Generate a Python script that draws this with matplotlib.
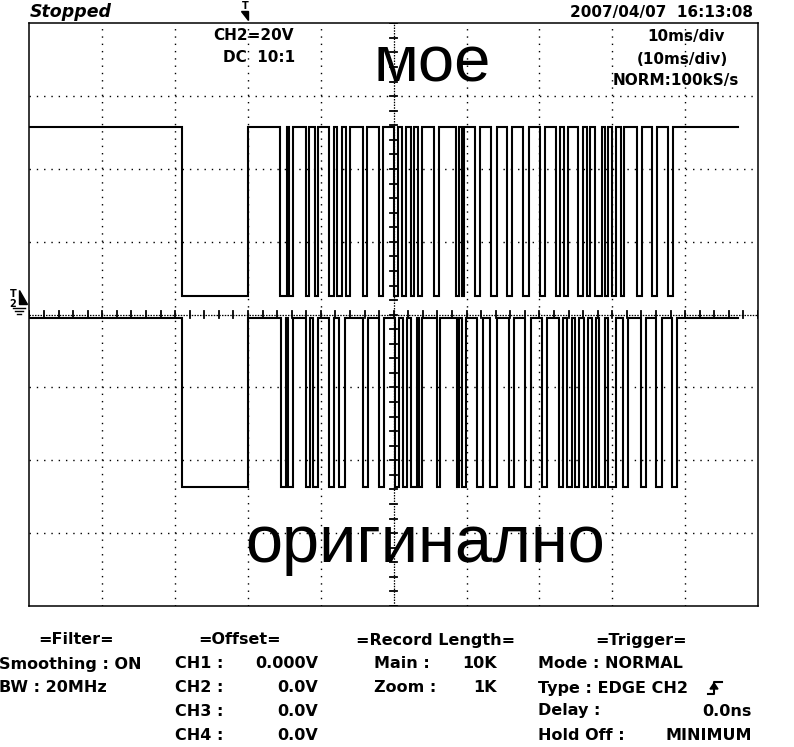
import numpy as np
import matplotlib.pyplot as plt
from matplotlib.patches import Polygon

########################### data ################################
# horizontal: 10 div x 10 ms/div, vertical: 8 div (CH2 = 20V/div)
t_end = 97.3

# upper trace "мое" : levels in div, low intervals in ms
moe_high = 2.57
moe_low = 0.26
moe_lows = [(20.9, 30.0), (34.4, 35.3), (35.6, 36.2), (38.0, 38.4), (39.2, 39.6),
            (41.1, 41.8), (42.2, 42.9), (43.4, 44.0), (45.8, 46.3), (48.0, 48.5),
            (50.0, 50.6), (51.1, 51.7), (52.4, 52.8), (53.3, 53.9), (55.5, 56.2),
            (58.5, 58.9), (59.4, 59.6), (61.2, 61.8), (63.3, 64.2), (65.5, 66.2),
            (67.7, 68.5), (70.1, 70.8), (72.3, 72.8), (73.4, 73.9), (75.3, 76.0),
            (76.5, 76.9), (77.6, 78.6), (79.0, 79.4), (79.9, 80.5), (81.2, 81.6),
            (83.4, 84.1), (85.5, 86.2), (87.7, 88.3)]

# lower trace "оригинално"
orig_high = -0.05
orig_low = -2.37
orig_lows = [(20.9, 30.0), (34.5, 35.2), (35.5, 36.2), (38.0, 38.5), (38.9, 39.6),
             (41.1, 41.8), (42.5, 43.3), (45.8, 46.5), (48.0, 48.7), (50.2, 50.7),
             (51.3, 51.8), (52.4, 53.2), (53.5, 53.9), (55.9, 56.4), (58.7, 59.0),
             (59.4, 59.9), (61.4, 62.3), (63.2, 64.2), (65.8, 66.5), (68.0, 68.8),
             (70.4, 71.0), (72.7, 73.2), (73.8, 74.5), (74.9, 75.4), (76.1, 76.7),
             (77.2, 77.8), (78.2, 79.0), (79.4, 80.5), (81.5, 82.2), (84.0, 84.6),
             (86.0, 86.8), (88.2, 88.9)]

filter_rows = ["Smoothing : ON", "BW : 20MHz"]
offset_names = ["CH1 :", "CH2 :", "CH3 :", "CH4 :"]
offset_values = ["0.000V", "0.0V", "0.0V", "0.0V"]
record_names = ["Main :", "Zoom :"]
record_values = ["10K", "1K"]
#################################################################

W, H = 794, 747


def fx(x):
    return x / W


def fy(y):
    return 1 - y / H


def build_trace(lows, high, low, end):
    xs = [0.0]
    ys = [high]
    for a, b in lows:
        xs += [a, a, b, b]
        ys += [high, low, low, high]
    xs.append(end)
    ys.append(high)
    return xs, ys


fig = plt.figure(figsize=(W / 100, H / 100), dpi=100)
ax = fig.add_axes([fx(29.5), fy(606), (758 - 29.5) / W, (606 - 23.3) / H])
ax.set_xlim(0, 100)
ax.set_ylim(-4, 4)
ax.set_xticks([])
ax.set_yticks([])
for s in ax.spines.values():
    s.set_linewidth(1.1)

# grid
for k in range(1, 10):
    if k == 5:
        continue
    ax.plot([k * 10, k * 10], [-4, 4], color='black', lw=1.0,
            linestyle=(0, (1, 4.25)))
for k in range(-3, 4):
    if k == 0:
        continue
    ax.plot([0, 100], [k, k], color='black', lw=1.0, linestyle=(0, (1, 4.25)))
ax.plot([50, 50], [-4, 4], color='black', lw=0.9, linestyle=(0, (1.2, 1.0)))
ax.plot([0, 100], [0, 0], color='black', lw=0.9, linestyle=(0, (1.2, 1.0)))
for tt in np.arange(0, 100.01, 2):
    ax.plot([tt, tt], [-0.05, 0.05], color='black', lw=1.3)
for vv in np.arange(-4, 4.01, 0.2):
    ax.plot([49.5, 50.5], [vv, vv], color='black', lw=1.3)

# traces
x1, y1 = build_trace(moe_lows, moe_high, moe_low, t_end)
x2, y2 = build_trace(orig_lows, orig_high, orig_low, t_end)
ax.plot(x1, y1, color='black', lw=1.5, solid_joinstyle='miter')
ax.plot(x2, y2, color='black', lw=1.5, solid_joinstyle='miter')

# big labels
fig.text(fx(432), fy(82), "мое", ha='center', va='baseline', fontsize=47,
         family='Liberation Sans')
fig.text(fx(425), fy(562), "оригинално", ha='center', va='baseline',
         fontsize=48, family='Liberation Sans')

bold = dict(family='DejaVu Sans', fontweight='bold', fontsize=11)

fig.text(fx(30), fy(12), "Stopped", style='italic', fontweight='bold',
         fontsize=12.5, va='center', ha='left')
fig.text(fx(753), fy(13), "2007/04/07  16:13:08", ha='right', va='center', **bold)
fig.text(fx(213), fy(35), "CH2=20V", ha='left', va='center', **bold)
fig.text(fx(223), fy(58), "DC  10:1", ha='left', va='center', **bold)
fig.text(fx(686), fy(36), "10ms/div", ha='center', va='center', **bold)
fig.text(fx(682), fy(59), "(10ms/div)", ha='center', va='center', **bold)
fig.text(fx(676), fy(81), "NORM:100kS/s", ha='center', va='center', **bold)

# trigger marker at top
fig.text(fx(245), fy(6), "T", ha='center', va='center', fontsize=7,
         fontweight='bold')
fig.patches.append(Polygon([[fx(241), fy(11)], [fx(248), fy(11)], [fx(248), fy(20)]],
                           closed=True, color='black', transform=fig.transFigure))

# channel marker at left
fig.text(fx(13), fy(294), "T", ha='center', va='center', fontsize=7, fontweight='bold')
fig.text(fx(13), fy(304), "2", ha='center', va='center', fontsize=7, fontweight='bold')
fig.patches.append(Polygon([[fx(19), fy(290)], [fx(19), fy(304)], [fx(27), fy(304)]],
                           closed=True, color='black', transform=fig.transFigure))
for yy, half in [(308, 6), (311, 4), (314, 2)]:
    fig.lines.append(plt.Line2D([fx(19 - half), fx(19 + half)], [fy(yy), fy(yy)],
                                color='black', lw=1.0, transform=fig.transFigure))

# bottom panel
rows = [640, 664, 688, 711, 735]
fb = dict(family='DejaVu Sans', fontweight='bold', fontsize=11.5, va='center')
fig.text(fx(76), fy(rows[0]), "=Filter=", ha='center', **fb)
for i, s in enumerate(filter_rows):
    fig.text(fx(-1), fy(rows[i + 1]), s, ha='left', **fb)

fig.text(fx(240), fy(rows[0]), "=Offset=", ha='center', **fb)
for i, (n, v) in enumerate(zip(offset_names, offset_values)):
    fig.text(fx(175), fy(rows[i + 1]), n, ha='left', **fb)
    fig.text(fx(318), fy(rows[i + 1]), v, ha='right', **fb)

fig.text(fx(436), fy(rows[0]), "=Record Length=", ha='center', **fb)
for i, (n, v) in enumerate(zip(record_names, record_values)):
    fig.text(fx(374), fy(rows[i + 1]), n, ha='left', **fb)
    fig.text(fx(497), fy(rows[i + 1]), v, ha='right', **fb)

fig.text(fx(641), fy(rows[0]), "=Trigger=", ha='center', **fb)
fig.text(fx(538), fy(rows[1]), "Mode : NORMAL", ha='left', **fb)
fig.text(fx(538), fy(rows[2]), "Type : EDGE CH2", ha='left', **fb)
fig.text(fx(538), fy(rows[3]), "Delay :", ha='left', **fb)
fig.text(fx(752), fy(rows[3]), "0.0ns", ha='right', **fb)
fig.text(fx(538), fy(rows[4]), "Hold Off :", ha='left', **fb)
fig.text(fx(752), fy(rows[4]), "MINIMUM", ha='right', **fb)

# rising edge symbol
fig.lines.append(plt.Line2D([fx(708), fx(714), fx(714), fx(722)],
                            [fy(694), fy(694), fy(682), fy(682)],
                            color='black', lw=1.5, transform=fig.transFigure))
fig.patches.append(Polygon([[fx(710), fy(689)], [fx(718), fy(689)], [fx(714), fy(683)]],
                           closed=True, color='black', transform=fig.transFigure))

fig.savefig("out.png", dpi=100, facecolor='white')
